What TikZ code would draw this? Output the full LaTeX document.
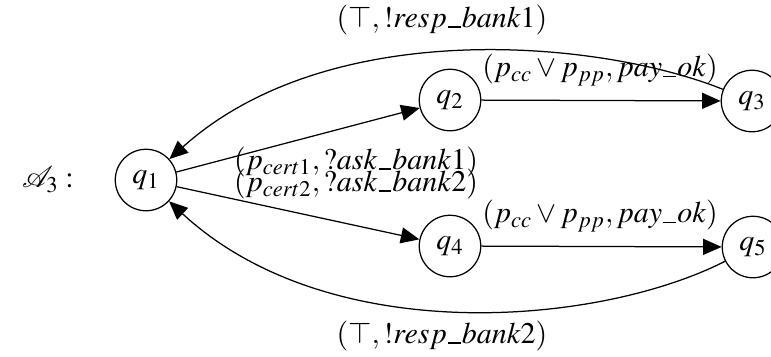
\documentclass[tikz,border=0pt]{standalone}
\usepackage{mathptmx}
\usetikzlibrary{arrows.meta}
\newcommand{\usc}{\mbox{\kern0.04em\rule{0.42em}{0.45pt}\kern0.04em}}
\begin{document}
\begin{tikzpicture}[x=0.4pt,y=-0.4pt,
  state/.style={draw,circle,minimum size=24.6pt,inner sep=0pt,font=\fontsize{12}{14}\selectfont},
  lbl/.style={font=\fontsize{12}{14}\selectfont,inner sep=0pt},
  tr/.style={draw,line width=0.5pt,-{Triangle[length=7.4pt,width=6.4pt]}},
  every node/.style={line width=0.5pt}]
\useasboundingbox (0,0) rectangle (771,356);
\node[lbl] (A) at (48,180) {$\mathcal{A}_3:$};
\node[state] (q1) at (146,180) {$q_1$};
\node[state] (q2) at (450,100) {$q_2$};
\node[state] (q3) at (752,101) {$q_3$};
\node[state] (q4) at (450,246) {$q_4$};
\node[state] (q5) at (753,247) {$q_5$};
\draw[tr] (q1) -- (q2);
\draw[tr] (q1) -- (q4);
\draw[tr] (q2) -- (q3);
\draw[tr] (q4) -- (q5);
\draw[tr] (q3) .. controls (600,40) and (330,15) .. (q1);
\draw[tr] (q5) .. controls (600,325) and (330,350) .. (q1);
\node[lbl] (l1) at (442,20) {$(\top, !resp\usc bank1)$};
\node[lbl] (l2) at (442,336) {$(\top, !resp\usc bank2)$};
\node[lbl] (l3) at (356,162) {$(p_{cert1}, ?ask\usc bank1)$};
\node[lbl] (l4) at (356,184) {$(p_{cert2}, ?ask\usc bank2)$};
\node[lbl] (l5) at (600,70) {$(p_{cc}\vee p_{pp}, pay\usc ok)$};
\node[lbl] (l6) at (600,216) {$(p_{cc}\vee p_{pp}, pay\usc ok)$};
\end{tikzpicture}
\end{document}
